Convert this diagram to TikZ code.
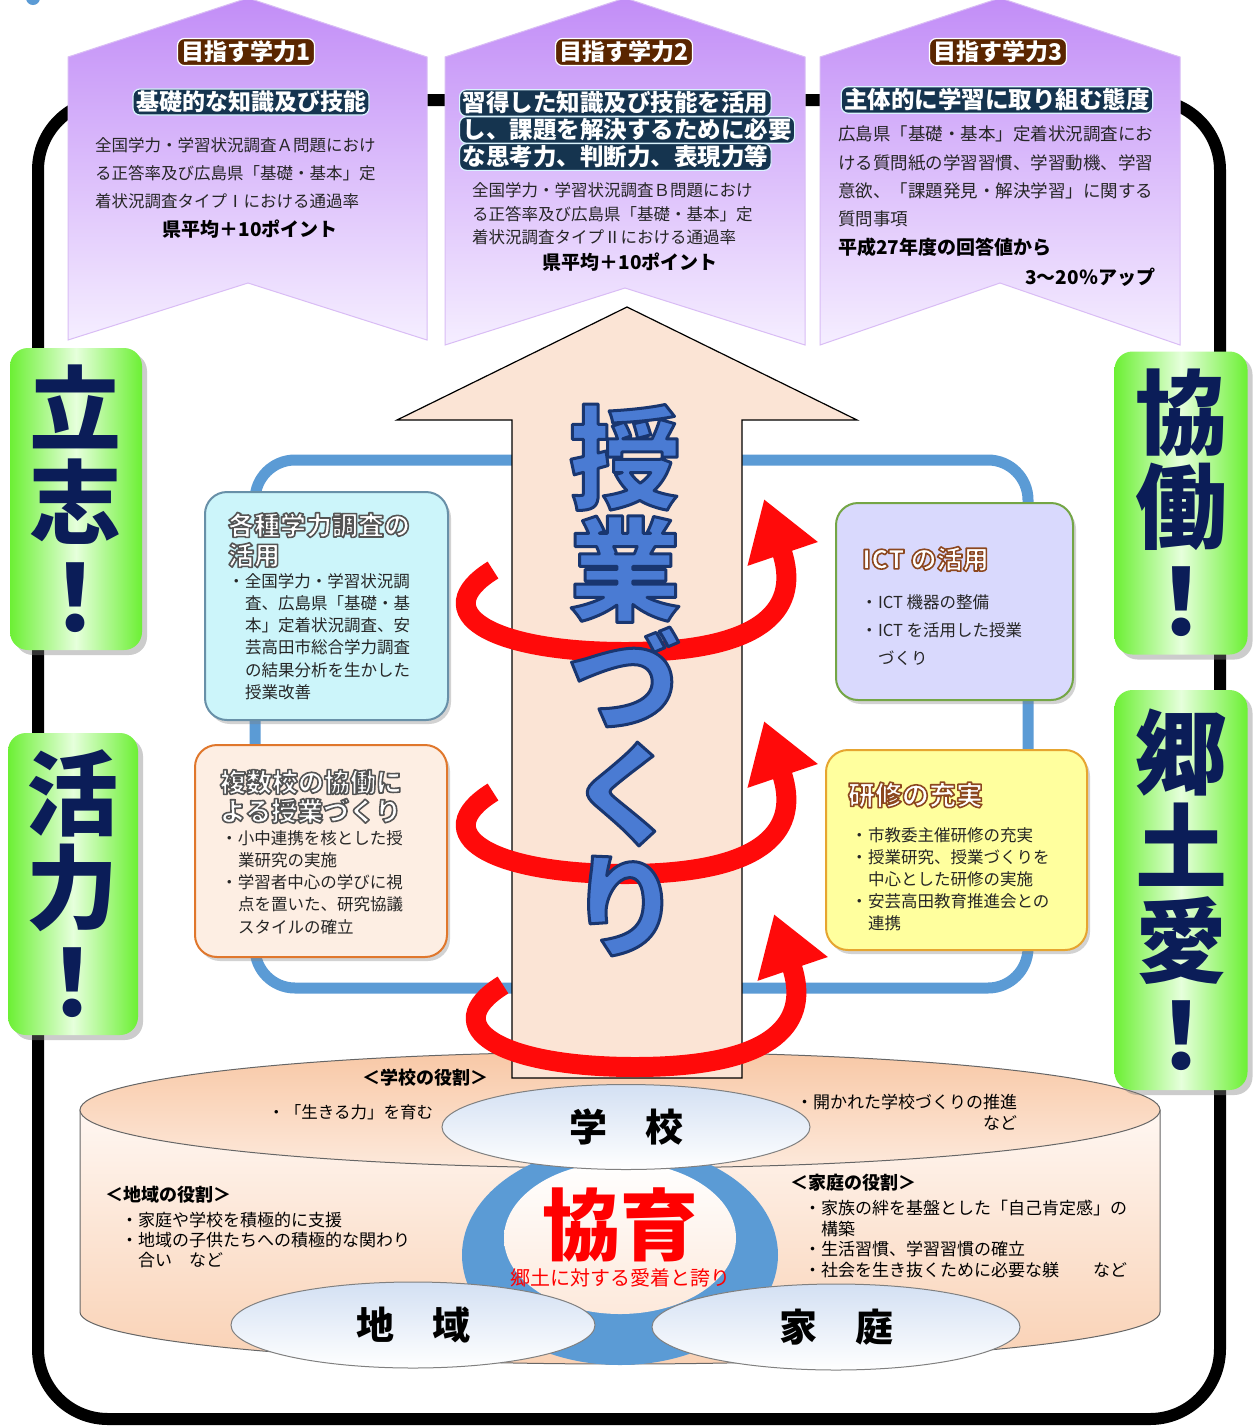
\documentclass[tikz,border=0pt]{standalone}
\usepackage{fontspec}
\usetikzlibrary{shadows,arrows.meta,shapes.geometric}
\newfontfamily\jp{Noto Sans CJK JP}
\newcommand\setfs[2]{\fontsize{#1}{#2}\selectfont}
% outlined text: stroke width, stroke colour (rgb numbers), text
\newcommand\outl[3]{\special{pdf:code q #1 w 1 j #2 RG 2 Tr}#3\special{pdf:code Q}}
\newcommand\bul{\makebox[13pt][l]{\hspace{-4pt}・}}
\newcommand\ind{\hspace*{13pt}}
\definecolor{purtop}{HTML}{C28DF7}
\definecolor{purbot}{HTML}{F5EEFF}
\definecolor{purline}{HTML}{D9BCF5}
\definecolor{brownol}{HTML}{5A2600}
\definecolor{navyol}{HTML}{15344F}
\definecolor{gdark}{HTML}{6CF034}
\definecolor{glight}{HTML}{E6FFDC}
\definecolor{navytxt}{HTML}{0B1D58}
\definecolor{peach}{HTML}{FBE4D5}
\definecolor{loopblue}{HTML}{5B9BD5}
\definecolor{jblue}{HTML}{4A7BD3}
\definecolor{cyanf}{HTML}{CCF5FA}
\definecolor{cyand}{HTML}{6890A8}
\definecolor{orangef}{HTML}{FDEEE3}
\definecolor{oranged}{HTML}{E0772C}
\definecolor{lavf}{HTML}{D9D9FD}
\definecolor{lavd}{HTML}{74A646}
\definecolor{yelf}{HTML}{FFFF9E}
\definecolor{yeld}{HTML}{E6A530}
\definecolor{cyltop}{HTML}{F8C8A6}
\definecolor{cylmid}{HTML}{FDE9DB}
\definecolor{cylbody}{HTML}{FFF7F2}
\definecolor{cylbot}{HTML}{F9D1B4}
\definecolor{ellblue}{HTML}{D3E0F3}
\definecolor{txtdark}{HTML}{262626}
\definecolor{redswirl}{HTML}{FF0A0A}
\begin{document}
\begin{tikzpicture}[x=1pt,y=-1pt,
  txt/.style={inner sep=0pt,outer sep=0pt,font=\jp,text=txtdark},
  banner/.style={top color=purtop,bottom color=purbot,draw=purline,line width=1pt},
  browntag/.style={fill=brownol,draw=white,line width=1.2pt,rounded corners=7pt,inner xsep=4pt,inner ysep=2.5pt,
     text=white,font={\jp\bfseries\setfs{23}{25}}},
  navytag/.style={fill=navyol,draw=white!85!cyan,line width=1.2pt,rounded corners=7pt,inner xsep=3pt,inner ysep=2pt,
     text=white,font={\jp\bfseries\setfs{23}{25}}},
  gbox/.style={rounded corners=18pt,left color=gdark,right color=gdark,middle color=glight,
     drop shadow={opacity=0.4,shadow xshift=5pt,shadow yshift=-5pt},
     font={\jp\bfseries\setfs{92}{94}},text=navytxt,align=center,inner sep=0pt},
  ibox/.style={rounded corners=22pt,line width=2pt,drop shadow={opacity=0.35,shadow xshift=3pt,shadow yshift=-4pt},inner sep=0pt},
  swirl/.style={draw=redswirl,line width=20pt,-{Triangle[length=58pt,width=70pt]}},
  ellnode/.style={ellipse,top color=ellblue,bottom color=white,draw=gray,line width=1pt,inner sep=0pt,
     font={\jp\bfseries\setfs{38}{40}},text=black},
]
\useasboundingbox (0,0) rectangle (1255,1428);
\fill[white] (0,0) rectangle (1255,1428);
\fill[loopblue] (33,-2) circle[radius=7];

% outer frame
\draw[line width=12pt, rounded corners=70pt] (38,100) rectangle (1220,1419);

% banners
\path[banner] (68,57) -- (248,-2) -- (427,57) -- (427,340) -- (248,283) -- (68,340) -- cycle;
\path[banner] (445,57) -- (625,-2) -- (805,57) -- (805,345) -- (625,288) -- (445,345) -- cycle;
\path[banner] (820,57) -- (1000,-2) -- (1180,57) -- (1180,345) -- (1000,283) -- (820,345) -- cycle;

% blue loop
\draw[loopblue, line width=11pt, rounded corners=40pt] (255,460) rectangle (1028,988);

% cylinder
\path[top color=cylbody, bottom color=cylbot, draw=gray!80!black, line width=1pt] (80,1110) -- (80,1312) arc[start angle=180,end angle=0,x radius=540,y radius=52] -- (1160,1110) -- cycle;
\path[top color=cyltop, bottom color=cylmid, draw=gray!80!black, line width=1pt] (620,1110) ellipse[x radius=540, y radius=58];
\fill[loopblue] (620,1255) ellipse[x radius=158, y radius=110];
\path[top color=white, bottom color=cylmid] (620,1238) ellipse[x radius=116, y radius=76];

% green boxes
\node[gbox, minimum width=132pt, minimum height=302pt] (ritsu) at (76,499) {立\\志\\！};
\node[gbox, minimum width=130pt, minimum height=302pt] (katsu) at (73,884) {活\\力\\！};
\node[gbox, minimum width=133pt, minimum height=303pt] (kyodo) at (1181,503) {協\\働\\！};
\node[gbox, minimum width=133pt, minimum height=400pt] (kyodoai) at (1181,890) {郷\\土\\愛\\！};

% info boxes
\node[ibox, fill=cyanf, draw=cyand, minimum width=243pt, minimum height=228pt] (boxA) at (326.5,606) {};
\node[txt, anchor=west, align=left, font={\jp\bfseries\setfs{26}{30}}, text=white] (boxAt) at (228,540) {\outl{1.6}{0.33 0.33 0.33}{各種学力調査の}\\\outl{1.6}{0.33 0.33 0.33}{活用}};
\node[txt, anchor=west, align=left, font={\jp\setfs{16.5}{22.2}}] (boxAb) at (232,636.5) {\bul 全国学力・学習状況調\\\ind 査、広島県「基礎・基\\\ind 本」定着状況調査、安\\\ind 芸高田市総合学力調査\\\ind の結果分析を生かした\\\ind 授業改善};

\node[ibox, fill=orangef, draw=oranged, minimum width=252pt, minimum height=212pt] (boxB) at (321,851) {};
\node[txt, anchor=west, align=left, font={\jp\bfseries\setfs{26}{29}}, text=white] (boxBt) at (220,796.5) {\outl{1.6}{0.33 0.33 0.33}{複数校の協働に}\\\outl{1.6}{0.33 0.33 0.33}{よる授業づくり}};
\node[txt, anchor=west, align=left, font={\jp\setfs{16.5}{22.2}}] (boxBb) at (225,882.5) {\bul 小中連携を核とした授\\\ind 業研究の実施\\\bul 学習者中心の学びに視\\\ind 点を置いた、研究協議\\\ind スタイルの確立};

\node[ibox, fill=lavf, draw=lavd, minimum width=237pt, minimum height=197pt] (boxC) at (954.5,601.5) {};
\node[txt, anchor=west, font={\jp\bfseries\setfs{26}{29}}, text=white] (boxCt) at (862,559) {\outl{1.6}{0.55 0.28 0.12}{ICT の活用}};
\node[txt, anchor=west, align=left, font={\jp\setfs{16.5}{28}}] (boxCb) at (865,630) {\bul ICT 機器の整備\\\bul ICT を活用した授業\\\ind づくり};

\node[ibox, fill=yelf, draw=yeld, minimum width=261pt, minimum height=200pt] (boxD) at (956.5,850) {};
\node[txt, anchor=west, font={\jp\bfseries\setfs{27}{29}}, text=white] (boxDt) at (848,795) {\outl{1.6}{0.55 0.28 0.12}{研修の充実}};
\node[txt, anchor=west, align=left, font={\jp\setfs{16.5}{22}}] (boxDb) at (855,879) {\bul 市教委主催研修の充実\\\bul 授業研究、授業づくりを\\\ind 中心とした研修の実施\\\bul 安芸高田教育推進会との\\\ind 連携};

% big arrow
\filldraw[fill=peach, draw=black, line width=1.2pt] (512,1078) -- (512,420) -- (397,420) -- (627,307) -- (857,420) -- (742,420) -- (742,1078) -- cycle;

% swirls
\draw[swirl] (493,570) .. controls (425,612) and (490,652) .. (625,652) .. controls (770,652) and (800,605) .. (764,499);
\draw[swirl] (493,792) .. controls (425,834) and (490,874) .. (625,874) .. controls (770,874) and (800,827) .. (764,721);
\draw[swirl] (503,985) .. controls (435,1027) and (500,1067) .. (635,1067) .. controls (780,1067) and (810,1020) .. (774,914);

% main vertical text
\node[txt, font={\jp\bfseries\setfs{112}{112}}, text=jblue, align=center] (jugyo) at (625,680) {\outl{3}{0.10 0.21 0.44}{授}\\\outl{3}{0.10 0.21 0.44}{業}\\\outl{3}{0.10 0.21 0.44}{づ}\\\outl{3}{0.10 0.21 0.44}{く}\\\outl{3}{0.10 0.21 0.44}{り}};

% ellipses
\node[ellnode, minimum width=368pt, minimum height=85pt] (school) at (626,1127) {学　校};
\node[ellnode, minimum width=364pt, minimum height=86pt] (chiiki) at (413,1325) {地　域};
\node[ellnode, minimum width=368pt, minimum height=86pt] (katei) at (836,1327) {家　庭};

\node[txt, font={\jp\bfseries\setfs{78}{80}}, text=red] (kyoiku) at (620,1225) {協育};
\node[txt, font={\jp\setfs{20}{22}}, text=red] (kyosub) at (620,1278) {郷土に対する愛着と誇り};

% cylinder texts
\node[txt, font={\jp\bfseries\setfs{18}{20}}, text=black] (rschool) at (425,1078) {＜学校の役割＞};
\node[txt, anchor=west, font={\jp\setfs{16.5}{20}}, text=black] (rs1) at (272,1112) {\bul「生きる力」を育む};
\node[txt, anchor=west, align=right, font={\jp\setfs{17}{21}}, text=black] (rs2) at (800,1112.5) {\bul 開かれた学校づくりの推進\\など};
\node[txt, anchor=west, font={\jp\bfseries\setfs{18}{20}}, text=black] (rchiiki) at (105,1195) {＜地域の役割＞};
\node[txt, anchor=west, align=left, font={\jp\setfs{17}{20}}, text=black] (rc1) at (125,1240) {\bul 家庭や学校を積極的に支援\\\bul 地域の子供たちへの積極的な関わり\\\ind 合い　など};
\node[txt, anchor=west, font={\jp\bfseries\setfs{18}{20}}, text=black] (rkatei) at (790,1183) {＜家庭の役割＞};
\node[txt, anchor=west, align=left, font={\jp\setfs{17}{20.7}}, text=black] (rk1) at (808,1239) {\bul 家族の絆を基盤とした「自己肯定感」の\\\ind 構築\\\bul 生活習慣、学習習慣の確立\\\bul 社会を生き抜くために必要な躾　　など};

% banner texts
\node[browntag] (b1t) at (246,52) {目指す学力1};
\node[navytag] (b1s) at (251,102) {基礎的な知識及び技能};
\node[txt, anchor=west, align=left, font={\jp\setfs{16.5}{28}}] (b1b) at (95,173) {全国学力・学習状況調査Ａ問題におけ\\る正答率及び広島県「基礎・基本」定\\着状況調査タイプⅠにおける通過率};
\node[txt, font={\jp\bfseries\setfs{19}{21}}, text=black] (b1p) at (250,229) {県平均＋10ポイント};

\node[browntag] (b2t) at (624,52) {目指す学力2};
\node[navytag, anchor=west, font={\jp\bfseries\setfs{23.5}{26}}] (b2s1) at (459,103) {習得した知識及び技能を活用};
\node[navytag, anchor=west, font={\jp\bfseries\setfs{23.5}{26}}] (b2s2) at (459,130) {し、課題を解決するために必要};
\node[navytag, anchor=west, font={\jp\bfseries\setfs{23.5}{26}}] (b2s3) at (459,157) {な思考力、判断力、表現力等};
\node[txt, anchor=west, align=left, font={\jp\setfs{16.5}{23.5}}] (b2b) at (472,214) {全国学力・学習状況調査Ｂ問題におけ\\る正答率及び広島県「基礎・基本」定\\着状況調査タイプⅡにおける通過率};
\node[txt, font={\jp\bfseries\setfs{19}{21}}, text=black] (b2p) at (630,262) {県平均＋10ポイント};

\node[browntag] (b3t) at (998,52) {目指す学力3};
\node[navytag, font={\jp\bfseries\setfs{23.5}{25}}] (b3s) at (997,100) {主体的に学習に取り組む態度};
\node[txt, anchor=west, align=left, font={\jp\setfs{17.5}{28.3}}] (b3b) at (838,176.5) {広島県「基礎・基本」定着状況調査にお\\ける質問紙の学習習慣、学習動機、学習\\意欲、「課題発見・解決学習」に関する\\質問事項};
\node[txt, anchor=west, font={\jp\bfseries\setfs{19}{21}}, text=black] (b3p) at (838,247) {平成27年度の回答値から};
\node[txt, anchor=east, font={\jp\bfseries\setfs{19}{21}}, text=black] (b3q) at (1155,277) {3～20％アップ};
\end{tikzpicture}
\end{document}
